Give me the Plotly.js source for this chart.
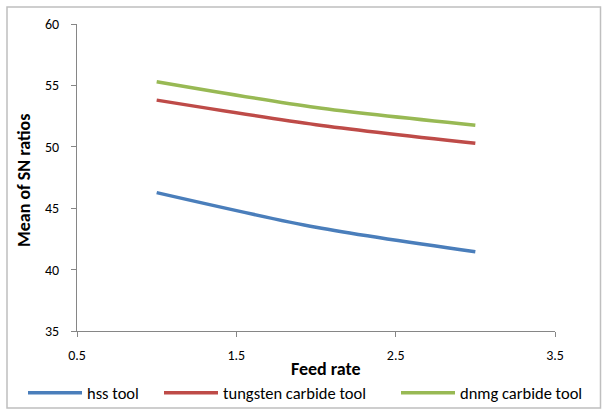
<!DOCTYPE html>
<html>
<head>
<meta charset="utf-8">
<script src="https://cdn.plot.ly/plotly-3.0.1.min.js"></script>
<style>
  html, body { margin: 0; padding: 0; background: #ffffff; }
  #chart { width: 602px; height: 410px; }
</style>
</head>
<body>
<div id="chart"></div>
<script>
// Data
const feedRate = [1, 2, 3];
const hssTool = [46.27, 43.45, 41.45];
const tungstenCarbideTool = [53.8, 51.8, 50.28];
const dnmgCarbideTool = [55.3, 53.2, 51.76];

const seriesNames = ["hss tool", "tungsten carbide tool", "dnmg carbide tool"];
const seriesColors = ["#4A7EBB", "#BE4B48", "#98B954"];
const xTickVals = [0.5, 1.5, 2.5, 3.5];
const xTickText = ["0.5", "1.5", "2.5", "3.5"];
const yTickVals = [35, 40, 45, 50, 55, 60];
const xTitle = "Feed rate";
const yTitle = "Mean of SN ratios";

const FONT = "Carlito, Calibri, Lato, sans-serif";

const legendIds = ["legend", "legend2", "legend3"];
const seriesData = [hssTool, tungstenCarbideTool, dnmgCarbideTool];
const traces = seriesData.map((ys, i) => ({
  type: "scatter",
  mode: "lines",
  x: feedRate,
  y: ys,
  name: seriesNames[i],
  legend: legendIds[i],
  line: { color: seriesColors[i], width: 3.5, shape: "spline", smoothing: 0.8 },
  hoverinfo: "x+y+name"
}));

const W = 602, H = 410;
const L = 77, R = 47, T = 24, B = 79;
const pw = W - L - R, ph = H - T - B;
const px = v => (v - L) / pw;
const py = v => (H - B - v) / ph;

const axisCommon = {
  ticks: "outside",
  ticklen: 5,
  tickwidth: 1,
  tickcolor: "#868686",
  showline: true,
  linecolor: "#868686",
  linewidth: 1,
  showgrid: false,
  zeroline: false,
  fixedrange: true,
  automargin: false,
  tickfont: { family: FONT, size: 14, color: "#000000" }
};

function legendAt(leftPx) {
  return {
    orientation: "h",
    xref: "container",
    yref: "container",
    x: leftPx / W,
    xanchor: "left",
    y: 1 - 393 / H,
    yanchor: "middle",
    itemwidth: 54,
    font: { family: FONT, size: 16.5, color: "#000000" },
    bgcolor: "rgba(0,0,0,0)",
    borderwidth: 0
  };
}

const layout = {
  width: W,
  height: H,
  margin: { l: L, r: R, t: T, b: B, pad: 0, autoexpand: false },
  paper_bgcolor: "#ffffff",
  plot_bgcolor: "#ffffff",
  font: { family: FONT, size: 14, color: "#000000" },
  showlegend: true,
  xaxis: Object.assign({}, axisCommon, {
    range: [0.5, 3.5],
    tickvals: xTickVals,
    ticktext: xTickText,
    ticklabelstandoff: 6
  }),
  yaxis: Object.assign({}, axisCommon, {
    range: [35, 60],
    tickvals: yTickVals,
    ticklabelstandoff: 9
  }),
  annotations: [
    {
      text: xTitle, xref: "paper", yref: "paper",
      x: px(326), y: py(369), xanchor: "center", yanchor: "middle",
      showarrow: false,
      font: { family: FONT, size: 18, color: "#000000", weight: "bold" }
    },
    {
      text: yTitle, xref: "paper", yref: "paper",
      x: px(24), y: py(181), xanchor: "center", yanchor: "middle",
      textangle: -90, showarrow: false,
      font: { family: FONT, size: 18, color: "#000000", weight: "bold" }
    }
  ],
  legend: legendAt(23),
  legend2: legendAt(159),
  legend3: legendAt(396),
  shapes: [{
    type: "rect",
    xref: "paper", yref: "paper",
    x0: px(7), x1: px(600.5),
    y0: py(408), y1: py(7),
    line: { color: "#BFBFBF", width: 1.5 },
    fillcolor: "rgba(0,0,0,0)",
    layer: "below"
  }]
};

Plotly.newPlot("chart", traces, layout, { displayModeBar: false, staticPlot: false });
</script>
</body>
</html>
